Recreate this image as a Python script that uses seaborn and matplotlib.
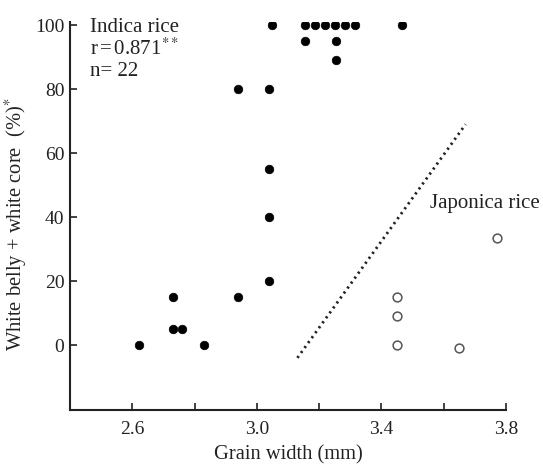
import pandas as pd
import matplotlib.pyplot as plt
import seaborn as sns

# indica rice (filled dots)
indica_width = [2.62, 2.73, 2.73, 2.76, 2.83, 2.94, 2.94, 3.04, 3.04, 3.04, 3.04, 3.05,
                3.155, 3.187, 3.219, 3.252, 3.284, 3.316, 3.155, 3.253, 3.255, 3.465]
indica_white = [0, 15, 5, 5, 0, 15, 80, 20, 40, 55, 80, 100,
                100, 100, 100, 100, 100, 100, 95, 95, 89, 100]

# japonica rice (open circles)
japonica_width = [3.45, 3.45, 3.45, 3.65, 3.77]
japonica_white = [0, 9, 15, -1, 33.5]

# dotted boundary line
line_x = [3.13, 3.67]
line_y = [-4, 69]

df_ind = pd.DataFrame({'width': indica_width, 'white': indica_white})
df_jap = pd.DataFrame({'width': japonica_width, 'white': japonica_white})
df_line = pd.DataFrame({'x': line_x, 'y': line_y})

sns.set_style('ticks')
plt.rcParams['font.family'] = ['Liberation Serif', 'DejaVu Serif']
plt.rcParams['mathtext.fontset'] = 'stix'

fig = plt.figure(figsize=(5.43, 4.67), dpi=100)
ax = fig.add_axes([0.129, 0.122, 0.803, 0.831])

sns.lineplot(data=df_line, x='x', y='y', ax=ax, color='#222222',
             linewidth=2, linestyle=(0, (0.8, 1.4)))
sns.scatterplot(data=df_ind, x='width', y='white', ax=ax, color='black',
                s=38, edgecolor='black', linewidth=0.5, zorder=3)
sns.scatterplot(data=df_jap, x='width', y='white', ax=ax, facecolor='white',
                edgecolor='#555555', s=40, linewidth=1.1, zorder=3)

ax.set_xlim(2.4, 3.8)
ax.set_ylim(-20.3, 101)
ax.set_xticks([2.6, 3.0, 3.4, 3.8])
ax.set_xticks([2.8, 3.2, 3.6], minor=True)
ax.set_yticks([0, 20, 40, 60, 80, 100])
ax.tick_params(axis='both', which='both', direction='in', length=5, width=1.2,
               labelsize=14, colors='#222222', labelcolor='#222222')
ax.tick_params(axis='x', pad=8)
ax.tick_params(axis='y', pad=4)
sns.despine(ax=ax)
for s in ['left', 'bottom']:
    ax.spines[s].set_linewidth(1.5)
    ax.spines[s].set_color('#222222')

ax.set_xlabel('Grain width (mm)', fontsize=14.8, color='#222222', labelpad=5)
ax.set_ylabel(r'White belly + white core  (%)$^{*}$', fontsize=14.8,
              color='#222222')
ax.yaxis.set_label_coords(-0.095, 0.479)

ax.text(0.046, 0.973, 'Indica rice', transform=ax.transAxes, fontsize=15,
        va='baseline', color='#222222')
ax.text(0.046, 0.915, r'r$\,$=$\,$0.871$^{**}$', transform=ax.transAxes,
        fontsize=15, va='baseline', color='#222222')
ax.text(0.046, 0.862, 'n= 22', transform=ax.transAxes, fontsize=15,
        va='baseline', color='#222222')
ax.text(3.555, 43, 'Japonica rice', fontsize=15, va='baseline', color='#222222')

plt.savefig('out.png', dpi=100)
